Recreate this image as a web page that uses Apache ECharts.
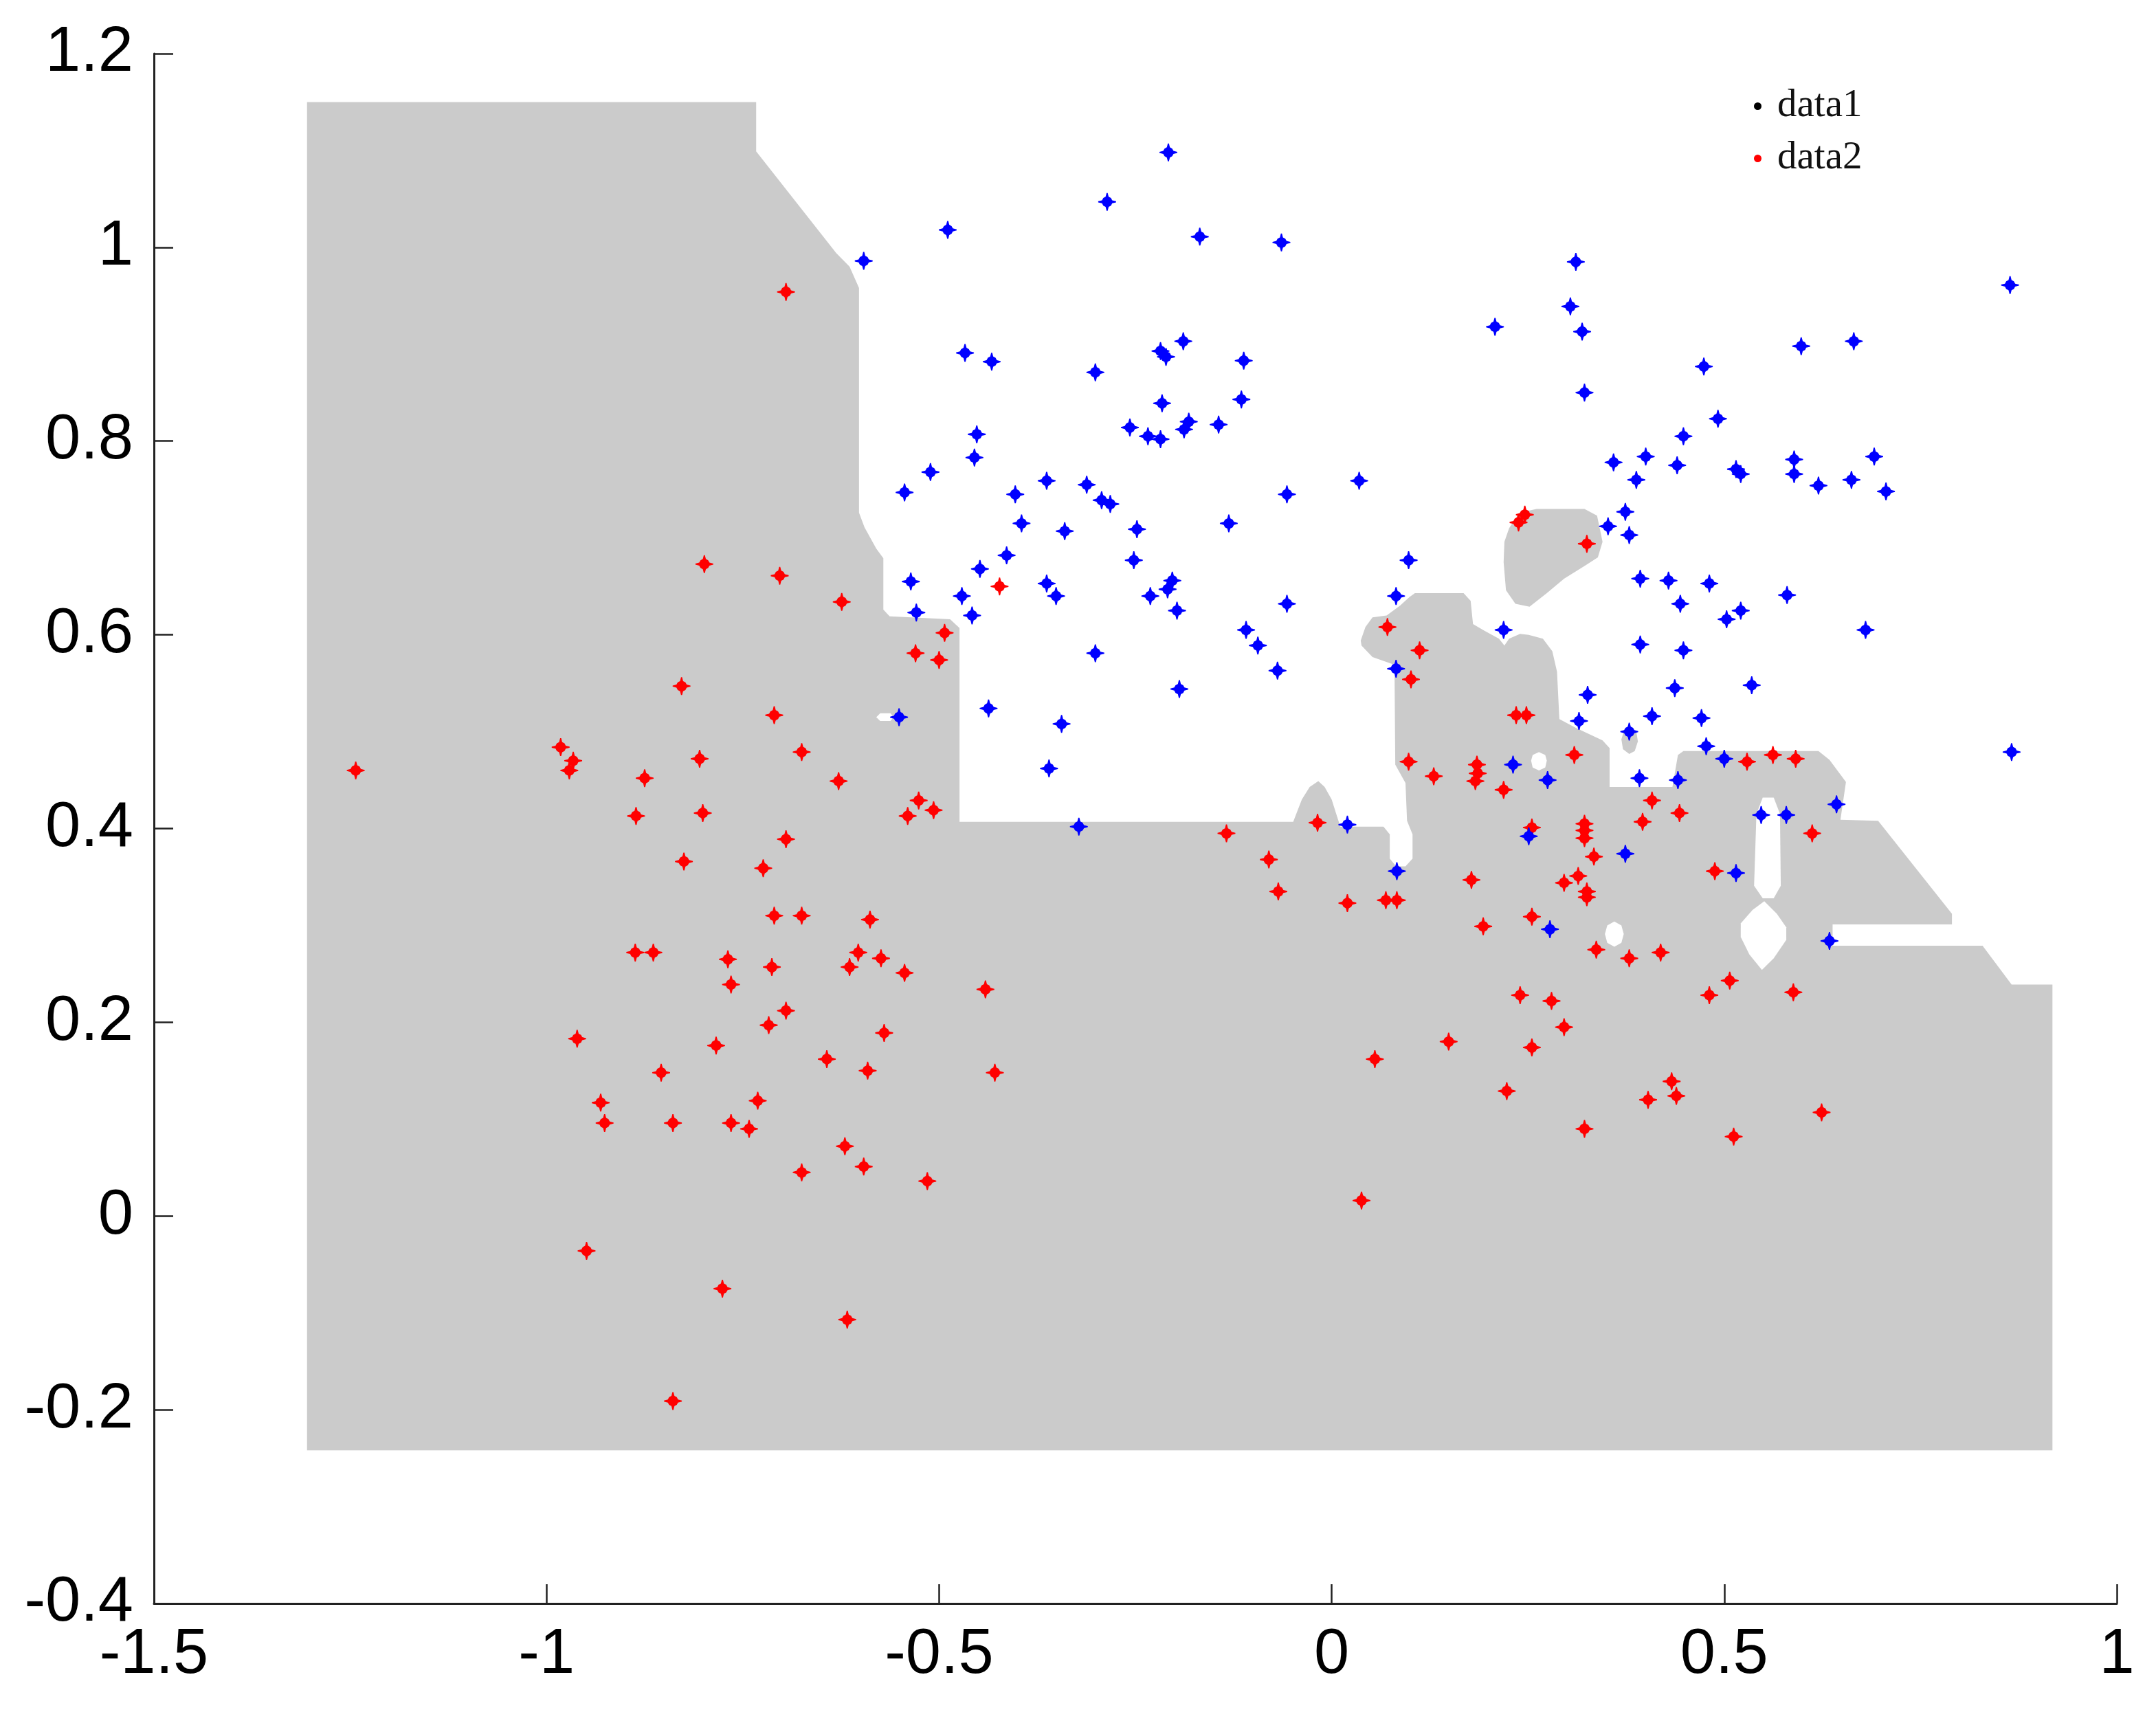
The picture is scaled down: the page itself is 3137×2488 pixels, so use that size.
<!DOCTYPE html>
<html>
<head>
<meta charset="utf-8">
<title>data1 / data2</title>
<script src="https://cdn.jsdelivr.net/npm/echarts@6/dist/echarts.min.js"></script>
<style>
  html, body { margin: 0; padding: 0; background: #fff; }
  #chart { width: 3137px; height: 2488px; }
</style>
</head>
<body>
<div id="chart"></div>
<script>
(function () {
    "use strict";

    // axis ticks
    var xTicks = [-1.5, -1, -0.5, 0, 0.5, 1];
    var yTicks = [-0.4, -0.2, 0, 0.2, 0.4, 0.6, 0.8, 1, 1.2];

    // grey decision region, outline of the big block
    var greyRegion = [
        [-1.305, 1.150], [-0.733, 1.150], [-0.733, 1.099], [-0.631, 0.994], [-0.614, 0.980],
        [-0.602, 0.958], [-0.602, 0.726], [-0.595, 0.711], [-0.580, 0.689], [-0.571, 0.679],
        [-0.571, 0.626], [-0.563, 0.619], [-0.486, 0.616], [-0.474, 0.607], [-0.474, 0.407],
        [-0.049, 0.407], [-0.038, 0.430], [-0.028, 0.443], [-0.017, 0.449], [-0.009, 0.443],
        [0.000, 0.430], [0.007, 0.412], [0.011, 0.402], [0.066, 0.402], [0.074, 0.394],
        [0.074, 0.369], [0.082, 0.361], [0.094, 0.361], [0.103, 0.369], [0.103, 0.394],
        [0.096, 0.408], [0.094, 0.447], [0.081, 0.466], [0.080, 0.569], [0.052, 0.577],
        [0.038, 0.589], [0.037, 0.594], [0.043, 0.608], [0.052, 0.618], [0.070, 0.620],
        [0.087, 0.630], [0.099, 0.639], [0.106, 0.643], [0.168, 0.643], [0.177, 0.635],
        [0.180, 0.611], [0.195, 0.604], [0.213, 0.596], [0.220, 0.589], [0.226, 0.596],
        [0.240, 0.601], [0.251, 0.600], [0.269, 0.596], [0.281, 0.583], [0.287, 0.562],
        [0.290, 0.513], [0.311, 0.504], [0.345, 0.491], [0.354, 0.483], [0.354, 0.443],
        [0.434, 0.443], [0.441, 0.476], [0.448, 0.480], [0.620, 0.480], [0.634, 0.471],
        [0.655, 0.448], [0.648, 0.409], [0.696, 0.408], [0.790, 0.312], [0.790, 0.301],
        [0.638, 0.301], [0.638, 0.279], [0.829, 0.279], [0.866, 0.239], [0.918, 0.239],
        [0.918, -0.242], [-1.305, -0.242]
    ];
    var greyIsland = [
        [0.226, 0.710], [0.239, 0.726], [0.261, 0.730], [0.322, 0.730], [0.338, 0.723],
        [0.345, 0.696], [0.339, 0.680], [0.322, 0.671], [0.296, 0.658], [0.274, 0.643],
        [0.252, 0.629], [0.234, 0.632], [0.222, 0.646], [0.219, 0.675], [0.220, 0.696]
    ];
    var greySpot = [
        [0.379, 0.505], [0.388, 0.500], [0.390, 0.490], [0.386, 0.480], [0.379, 0.477],
        [0.371, 0.482], [0.369, 0.492], [0.372, 0.500]
    ];

    // white holes inside the grey block
    var holeSlot = [
        [0.541, 0.415], [0.549, 0.432], [0.563, 0.432], [0.571, 0.415], [0.572, 0.341],
        [0.563, 0.328], [0.549, 0.328], [0.538, 0.341]
    ];
    var holeDiamond = [
        [0.551, 0.325], [0.567, 0.312], [0.579, 0.298], [0.579, 0.285], [0.563, 0.266],
        [0.548, 0.254], [0.532, 0.270], [0.521, 0.288], [0.521, 0.302], [0.536, 0.316]
    ];
    var holeSmall = [
        [0.360, 0.304], [0.369, 0.300], [0.372, 0.291], [0.369, 0.282], [0.360, 0.278],
        [0.351, 0.282], [0.348, 0.291], [0.351, 0.300]
    ];
    var holeTop = [
        [0.264, 0.479], [0.272, 0.476], [0.274, 0.470], [0.272, 0.463], [0.264, 0.460],
        [0.256, 0.463], [0.254, 0.470], [0.256, 0.476]
    ];
    var holeLeft = [
        [-0.580, 0.515], [-0.575, 0.519], [-0.562, 0.519], [-0.558, 0.515], [-0.562, 0.511],
        [-0.575, 0.511]
    ];

    // data1 has no visible points, only its legend entry
    var data1 = [];

    // red points
    var data2 = [
        [-0.695, 0.954], [-0.799, 0.673], [-0.703, 0.661], [-0.624, 0.634], [-0.493, 0.602],
        [-0.530, 0.581], [-0.500, 0.574], [-0.423, 0.650], [-0.828, 0.547], [-0.710, 0.517],
        [-0.675, 0.479], [-1.243, 0.460], [-0.982, 0.484], [-0.966, 0.470], [-0.971, 0.460],
        [-0.805, 0.472], [-0.875, 0.452], [-0.628, 0.449], [-0.886, 0.413], [-0.801, 0.416],
        [-0.526, 0.429], [-0.507, 0.419], [-0.540, 0.413], [-0.695, 0.389], [-0.825, 0.366],
        [-0.724, 0.359],
        [-0.710, 0.310], [-0.675, 0.310], [-0.588, 0.306], [-0.887, 0.272], [-0.864, 0.272],
        [-0.769, 0.265], [-0.713, 0.257], [-0.603, 0.272], [-0.574, 0.266], [-0.614, 0.257],
        [-0.544, 0.251], [-0.441, 0.234], [-0.765, 0.239], [-0.695, 0.212], [-0.717, 0.197],
        [-0.961, 0.183], [-0.784, 0.176], [-0.570, 0.189], [-0.643, 0.162], [-0.591, 0.150],
        [-0.429, 0.148], [-0.854, 0.148], [-0.931, 0.117], [-0.926, 0.096], [-0.839, 0.096],
        [-0.765, 0.096], [-0.731, 0.119], [-0.742, 0.090], [-0.620, 0.072], [-0.596, 0.051],
        [-0.675, 0.045], [-0.515, 0.036], [-0.949, -0.036], [-0.776, -0.075], [-0.617, -0.107],
        [-0.839, -0.191],
        [0.238, 0.716], [0.246, 0.724], [0.325, 0.694], [0.071, 0.608], [0.112, 0.584],
        [0.101, 0.554], [0.235, 0.517], [0.248, 0.517], [0.098, 0.469], [0.130, 0.454],
        [0.185, 0.466], [0.186, 0.457], [0.183, 0.449], [0.219, 0.440], [-0.134, 0.395],
        [-0.018, 0.406],
        [-0.080, 0.368], [-0.068, 0.335], [0.020, 0.323], [0.069, 0.326], [0.083, 0.326],
        [0.309, 0.476], [0.255, 0.401], [0.322, 0.405], [0.322, 0.398], [0.322, 0.390],
        [0.408, 0.429], [0.443, 0.416], [0.396, 0.407], [0.529, 0.469], [0.562, 0.476],
        [0.591, 0.472], [0.612, 0.395], [0.334, 0.371], [0.314, 0.351], [0.296, 0.344],
        [0.325, 0.335], [0.325, 0.329], [0.178, 0.347], [0.488, 0.356], [0.255, 0.309],
        [0.193, 0.299], [0.337, 0.275], [0.379, 0.266], [0.419, 0.272], [0.507, 0.243],
        [0.481, 0.228], [0.588, 0.231], [0.240, 0.228], [0.280, 0.222], [0.296, 0.195],
        [0.149, 0.180], [0.255, 0.174], [0.055, 0.162], [0.433, 0.139], [0.439, 0.124],
        [0.403, 0.120], [0.223, 0.129], [0.624, 0.107],
        [0.322, 0.090], [0.512, 0.082], [0.038, 0.016]
    ];

    // blue points (no legend entry)
    var data3 = [
        [-0.596, 0.986], [-0.467, 0.891], [-0.433, 0.882], [-0.452, 0.807], [-0.455, 0.783],
        [-0.511, 0.768], [-0.544, 0.747], [-0.448, 0.668], [-0.536, 0.655], [-0.471, 0.640],
        [-0.529, 0.623], [-0.458, 0.620], [-0.551, 0.515], [-0.437, 0.524], [-0.489, 1.018],
        [-0.208, 1.098], [-0.286, 1.047], [-0.168, 1.011], [-0.064, 1.005], [0.208, 0.918],
        [-0.301, 0.871], [-0.189, 0.903], [-0.218, 0.893], [-0.211, 0.887], [-0.112, 0.883],
        [-0.115, 0.843], [-0.216, 0.839], [-0.257, 0.814], [-0.234, 0.805], [-0.218, 0.802],
        [-0.188, 0.812], [-0.182, 0.820], [-0.144, 0.817], [-0.363, 0.759], [-0.403, 0.745],
        [-0.312, 0.755], [-0.293, 0.739], [-0.282, 0.735], [-0.395, 0.715], [-0.340, 0.707],
        [-0.248, 0.709], [-0.131, 0.715], [-0.057, 0.745], [0.035, 0.759], [-0.414, 0.682],
        [-0.252, 0.677], [-0.363, 0.653], [-0.351, 0.640], [-0.231, 0.640], [-0.203, 0.656],
        [-0.209, 0.647], [-0.197, 0.625], [-0.057, 0.632], [0.098, 0.677], [0.082, 0.640],
        [0.219, 0.605], [-0.109, 0.605], [-0.094, 0.589], [-0.069, 0.563], [-0.301, 0.581],
        [-0.194, 0.544], [-0.344, 0.508], [-0.360, 0.462], [-0.322, 0.402], [0.020, 0.404],
        [0.082, 0.565], [0.231, 0.466],
        [0.311, 0.985], [0.864, 0.961], [0.304, 0.939], [0.319, 0.913], [0.598, 0.898],
        [0.665, 0.903], [0.474, 0.877], [0.322, 0.850], [0.492, 0.823], [0.448, 0.805],
        [0.359, 0.778], [0.400, 0.784], [0.440, 0.775], [0.388, 0.760], [0.515, 0.771],
        [0.521, 0.766], [0.589, 0.781], [0.589, 0.766], [0.620, 0.754], [0.662, 0.760],
        [0.691, 0.784], [0.706, 0.748], [0.374, 0.727], [0.352, 0.712], [0.379, 0.703],
        [0.393, 0.658], [0.429, 0.656], [0.481, 0.653], [0.580, 0.641], [0.444, 0.632],
        [0.521, 0.625], [0.503, 0.616], [0.680, 0.605], [0.393, 0.590], [0.448, 0.584],
        [0.326, 0.538], [0.437, 0.545], [0.535, 0.548], [0.315, 0.511], [0.408, 0.516],
        [0.471, 0.514], [0.379, 0.500], [0.477, 0.485], [0.866, 0.479],
        [0.500, 0.472], [0.275, 0.450], [0.392, 0.452], [0.441, 0.450], [0.643, 0.425],
        [0.547, 0.414], [0.579, 0.414], [0.251, 0.392], [0.374, 0.374], [0.083, 0.356],
        [0.515, 0.354], [0.278, 0.296], [0.634, 0.284]
    ];

    var greyPolys = [greyRegion, greyIsland, greySpot];
    var holePolys = [holeSlot, holeDiamond, holeSmall, holeTop, holeLeft];

    // round dot with tapering plus arms, like a '.' drawn over a '+'
    var markSymbol = 'path://M9.4,0L10.6,0L11.7,4.3L14.3,5.7L15.7,8.3L20,9.4L20,10.6L15.7,11.7L14.3,14.3L11.7,15.7L10.6,20L9.4,20L8.3,15.7L5.7,14.3L4.3,11.7L0,10.6L0,9.4L4.3,8.3L5.7,5.7L8.3,4.3Z';

    function polygonSeries(name, polys, fill, z) {
        return {
            name: name,
            type: 'custom',
            z: z,
            silent: true,
            clip: true,
            data: polys.map(function (p) { return p[0]; }),
            renderItem: function (params, api) {
                var poly = polys[params.dataIndex];
                return {
                    type: 'polygon',
                    shape: { points: poly.map(function (p) { return api.coord(p); }) },
                    style: { fill: fill, stroke: null }
                };
            }
        };
    }

    function scatterSeries(name, data, color, z) {
        return {
            name: name,
            type: 'scatter',
            z: z,
            data: data,
            symbol: markSymbol,
            symbolSize: 26,
            itemStyle: { color: color, opacity: 1 },
            emphasis: { disabled: true }
        };
    }

    var axisFont = 'Liberation Sans, Arial, sans-serif';
    var chart = echarts.init(document.getElementById('chart'), null, { renderer: 'canvas' });
    chart.setOption({
        animation: false,
        backgroundColor: '#ffffff',
        grid: { left: 224, right: 57, top: 78, bottom: 155, containLabel: false },
        legend: {
            data: ['data1', 'data2'],
            orient: 'vertical',
            left: 2547,
            top: 121,
            icon: 'circle',
            itemWidth: 11,
            itemHeight: 11,
            itemGap: 19,
            selectedMode: false,
            textStyle: {
                fontFamily: 'Liberation Serif, Times New Roman, serif',
                fontSize: 57,
                lineHeight: 56,
                color: '#111',
                padding: [0, 0, 0, 18]
            }
        },
        xAxis: {
            type: 'value',
            min: xTicks[0],
            max: xTicks[xTicks.length - 1],
            interval: 0.5,
            axisLine: { show: true, onZero: false, lineStyle: { color: '#222', width: 3 } },
            axisTick: { show: true, inside: true, length: 28, lineStyle: { color: '#222', width: 2.5 } },
            axisLabel: {
                show: true, margin: 30, color: '#000', fontSize: 92, fontFamily: axisFont,
                showMinLabel: true, showMaxLabel: true,
                formatter: function (v) { return String(+v.toFixed(1)); }
            },
            splitLine: { show: false }
        },
        yAxis: {
            type: 'value',
            min: yTicks[0],
            max: yTicks[yTicks.length - 1],
            interval: 0.2,
            axisLine: { show: true, onZero: false, lineStyle: { color: '#222', width: 3 } },
            axisTick: { show: true, inside: true, length: 28, lineStyle: { color: '#222', width: 2.5 } },
            axisLabel: {
                show: true, margin: 30, color: '#000', fontSize: 92, fontFamily: axisFont,
                showMinLabel: true, showMaxLabel: true,
                formatter: function (v) { return String(+v.toFixed(1)); }
            },
            splitLine: { show: false }
        },
        series: [
            polygonSeries('region', greyPolys, '#cbcbcb', 1),
            polygonSeries('holes', holePolys, '#ffffff', 2),
            scatterSeries('data1', data1, '#000000', 3),
            scatterSeries('data2', data2, '#ff0000', 4),
            scatterSeries('data3', data3, '#0000ff', 5)
        ]
    });
}());
</script>
</body>
</html>
